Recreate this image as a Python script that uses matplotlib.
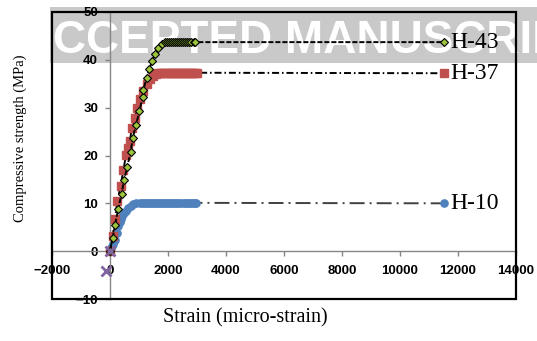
import matplotlib.pyplot as plt
from matplotlib.patches import Rectangle

# stress-strain data (strain in micro-strain, stress in MPa)
h10_strain = [0, 40, 80, 120, 172, 230, 287, 330, 368, 420, 480, 550, 630, 710, 800, 900, 1030,
              1100, 1170, 1240, 1310, 1380, 1450, 1520, 1590, 1660, 1730, 1800, 1870, 1940, 2010,
              2080, 2150, 2220, 2290, 2360, 2430, 2500, 2570, 2640, 2710, 2780, 2850, 2920, 2975, 11500]
h10_stress = [0, 0.6, 1.1, 1.6, 2.3, 3.9, 5.3, 6.1, 6.7, 7.3, 7.9, 8.5, 9.0, 9.5, 9.8, 10.0, 10.1,
              10.1, 10.1, 10.1, 10.1, 10.1, 10.1, 10.1, 10.1, 10.1, 10.1, 10.1, 10.1, 10.1, 10.1,
              10.1, 10.1, 10.1, 10.1, 10.1, 10.1, 10.1, 10.1, 10.1, 10.1, 10.1, 10.1, 10.1, 10.1, 10.0]

h37_strain = [0, 92, 172, 252, 368, 460, 552, 620, 690, 747, 862, 920, 1030, 1149, 1264, 1380, 1494,
              1580, 1666, 1740, 1810, 1880, 1950, 2020, 2090, 2160, 2230, 2300, 2370, 2440, 2510,
              2580, 2650, 2720, 2790, 2860, 2930, 2990, 11500]
h37_stress = [0, 3.2, 6.7, 10.4, 13.7, 16.9, 20.1, 21.6, 23.1, 25.7, 27.8, 30.0, 31.8, 33.5, 34.9, 35.9, 36.7,
              37.1, 37.3, 37.3, 37.3, 37.3, 37.3, 37.3, 37.3, 37.3, 37.3, 37.3, 37.3, 37.3, 37.3,
              37.3, 37.3, 37.3, 37.3, 37.3, 37.3, 37.3, 37.2]

h43_strain = [0, 92, 172, 287, 402, 480, 594, 713, 782, 897, 1011, 1126, 1149, 1264, 1356, 1460, 1552,
              1666, 1781, 1897, 1970, 2040, 2110, 2180, 2250, 2320, 2390, 2460, 2530, 2600, 2670,
              2740, 2810, 2880, 2931, 11500]
h43_stress = [0, 2.8, 5.4, 8.9, 12.0, 14.8, 17.6, 20.8, 23.6, 26.4, 29.2, 32.3, 33.7, 36.2, 38.1, 39.8, 41.3,
              42.5, 43.4, 43.7, 43.7, 43.7, 43.7, 43.7, 43.7, 43.7, 43.7, 43.7, 43.7, 43.7, 43.7,
              43.7, 43.7, 43.7, 43.7, 43.7]

origin_strain = [0, -130]
origin_stress = [0, -4.2]

labels = ['H-10', 'H-37', 'H-43']
xticks = list(range(-2000, 14001, 2000))
yticks = list(range(-10, 51, 10))

fig = plt.figure(figsize=(5.37, 3.41), dpi=100)
fig.patch.set_facecolor('white')

# grey banner with white lettering behind the plot
fig.patches.append(Rectangle((50 / 537, 1 - 63 / 341), 487 / 537, 56 / 341,
                             transform=fig.transFigure, facecolor='#c9c9c9',
                             edgecolor='none', zorder=-2))
fig.text(53 / 537, 1 - 53 / 341, 'CCEPTED MANUSCRIPT', color='white',
         fontsize=33, fontweight='bold', family='Liberation Sans',
         ha='left', va='baseline', zorder=-1)

ax = fig.add_axes([52 / 537, 1 - 299 / 341, 464 / 537, 287 / 341])
ax.set_facecolor('none')

ax.plot(h10_strain, h10_stress, color='#404040', lw=1.4,
        linestyle=(0, (7.7, 2.6, 1, 2.6)), marker='o', ms=5.2,
        mfc='#4f81bd', mec='#4f81bd', zorder=3)
ax.plot(h37_strain, h37_stress, color='black', lw=1.4,
        linestyle=(0, (3.6, 1.5, 0.8, 1.5)), marker='s', ms=5.2,
        mfc='#c0504d', mec='#c0504d', zorder=3)
ax.plot(h43_strain, h43_stress, color='black', lw=1.4,
        linestyle=(0, (2.6, 1)), marker='D', ms=4.2,
        mfc='#9bc43a', mec='black', mew=0.8, zorder=4)
ax.plot(origin_strain, origin_stress, linestyle='none', marker='x', ms=7,
        mew=2, color='#8064a2', zorder=5)

for name, xs, ys in zip(labels, [h10_strain, h37_strain, h43_strain],
                        [h10_stress, h37_stress, h43_stress]):
    ax.annotate(name, (xs[-1], ys[-1]), xytext=(5, 0), textcoords='offset points',
                va='center', ha='left', fontsize=17, family='Liberation Serif')

ax.set_xlim(-2000, 14000)
ax.set_ylim(-10, 50)
ax.set_xticks(xticks)
ax.set_yticks(yticks)

# axes cross at zero, plot area framed in black
for side in ['top', 'right']:
    ax.spines[side].set_visible(False)
ax.spines['left'].set_position(('data', 0))
ax.spines['bottom'].set_position(('data', 0))
for side in ['left', 'bottom']:
    ax.spines[side].set_color('#868686')
    ax.spines[side].set_linewidth(1.0)
ax.tick_params(direction='out', length=3.6, width=1, color='#868686')
ax.tick_params(axis='x', pad=6)
ax.tick_params(axis='y', pad=5)
for lab in ax.get_xticklabels() + ax.get_yticklabels():
    lab.set_fontfamily('Liberation Sans')
    lab.set_fontweight('bold')
    lab.set_fontsize(9.5)

ax.add_patch(Rectangle((0, 0), 1, 1, transform=ax.transAxes, fill=False,
                       edgecolor='black', lw=1.6, clip_on=False, zorder=6))

fig.text(245 / 537, 1 - 318 / 341, 'Strain (micro-strain)', ha='center', va='center',
         fontsize=14.5, family='Liberation Serif')
fig.text(20 / 537, 1 - 138 / 341, 'Compressive strength (MPa)', ha='center', va='center',
         rotation=90, fontsize=10.5, family='Liberation Serif')

fig.savefig('out.png', dpi=100)
